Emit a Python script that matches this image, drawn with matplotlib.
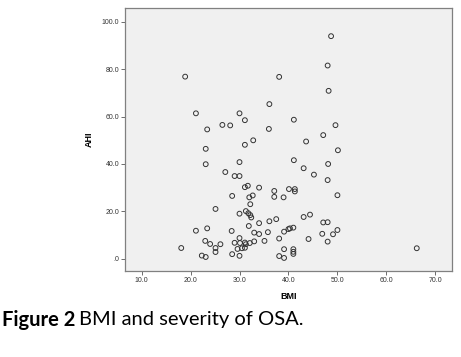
import matplotlib
matplotlib.use("Agg")
import matplotlib.pyplot as plt

# BMI vs AHI
bmi = [18.9, 21.1, 23.4, 26.5, 28.1, 23.1, 23.1, 27.1, 48.7, 48.0,
       38.1, 48.2, 36.1, 30.0, 31.1, 41.1, 36.0, 49.6, 47.1, 31.1,
       32.8, 43.6, 50.1, 30.0, 41.1, 43.1, 45.2, 48.1, 29.0, 30.0,
       48.0, 31.1, 31.7, 34.0, 28.5, 32.0, 32.7, 32.2, 37.1, 37.1,
       39.0, 40.1, 41.3, 41.3, 50.0, 25.1, 30.0, 31.3, 31.8, 32.2,
       32.4, 31.9, 34.0, 36.1, 37.5, 43.1, 44.4, 47.1, 48.0, 21.1,
       23.4, 28.4, 33.0, 34.0, 35.8, 39.1, 40.0, 40.3, 41.0, 46.9,
       49.1, 50.0, 38.1, 35.1, 44.1, 48.0, 30.0, 29.0, 30.1, 31.1,
       31.3, 32.1, 33.0, 29.6, 30.5, 31.1, 28.5, 30.0, 39.1, 41.0,
       41.0, 41.0, 38.1, 39.1, 66.2, 18.1, 23.0, 24.0, 25.1, 25.1,
       26.1, 22.3, 23.1]
ahi = [76.9, 61.4, 54.6, 56.5, 56.3, 46.4, 39.9, 36.6, 94.0, 81.6,
       76.8, 70.9, 65.3, 61.4, 58.5, 58.7, 54.8, 56.4, 52.2, 48.1,
       50.0, 49.5, 45.8, 40.8, 41.6, 38.2, 35.5, 40.0, 34.9, 34.9,
       33.2, 30.2, 30.8, 30.0, 26.5, 25.9, 26.7, 23.0, 28.6, 26.1,
       25.9, 29.4, 29.4, 28.4, 26.8, 21.0, 19.0, 20.1, 19.2, 18.4,
       17.4, 13.8, 15.0, 15.8, 16.7, 17.6, 18.6, 15.3, 15.4, 11.8,
       12.8, 11.7, 11.0, 10.4, 11.2, 11.4, 12.5, 12.8, 13.1, 10.5,
       10.3, 12.1, 8.5, 7.5, 8.3, 7.2, 8.7, 6.7, 6.6, 6.8,
       6.1, 6.6, 7.3, 4.1, 4.4, 4.6, 1.9, 1.2, 4.0, 4.0,
       2.9, 2.0, 1.1, 0.3, 4.4, 4.5, 7.5, 6.2, 4.5, 2.8,
       6.1, 1.3, 0.7]

x_ticks = [10, 20, 30, 40, 50, 60, 70]
x_labels = ["10.0", "20.0", "30.0", "40.0", "50.0", "60.0", "70.0"]
y_ticks = [0, 20, 40, 60, 80, 100]
y_labels = [".0", "20.0", "40.0", "60.0", "80.0", "100.0"]

fig = plt.figure(figsize=(4.61, 3.57), dpi=100)
ax = fig.add_axes([0.271, 0.241, 0.7095, 0.7366])
ax.set_facecolor("#f0f0f0")

ax.scatter(bmi, ahi, s=12, facecolors="none", edgecolors="#333333", linewidths=0.7)

ax.set_xlim(6.6, 73.4)
ax.set_ylim(-5.2, 105.9)
ax.set_xticks(x_ticks)
ax.set_xticklabels(x_labels)
ax.set_yticks(y_ticks)
ax.set_yticklabels(y_labels)

for s in ax.spines.values():
    s.set_color("#808080")
    s.set_linewidth(0.9)
ax.tick_params(direction="out", length=3, width=0.6, color="#555555",
               labelsize=5, labelcolor="#333333", pad=1)
for lab in ax.get_xticklabels() + ax.get_yticklabels():
    lab.set_family("Liberation Sans")

ax.set_xlabel("BMI", fontsize=6.5, fontweight="bold", family="Liberation Sans", labelpad=6)
ax.set_ylabel("AHI", fontsize=6.5, fontweight="bold", family="Liberation Sans", labelpad=6)

# caption: bold part, then the rest placed right after it
cap1 = fig.text(0.004, 0.105, "Figure 2", fontsize=14.5, fontweight="bold", family="Lato",
                va="center", ha="left")
r = fig.canvas.get_renderer()
bb = cap1.get_window_extent(renderer=r)
x_next = (bb.x1 + 4) / fig.bbox.width
fig.text(x_next, 0.105, "BMI and severity of OSA.", fontsize=14.5, family="Lato",
         va="center", ha="left")

fig.savefig("out.png", dpi=100)
